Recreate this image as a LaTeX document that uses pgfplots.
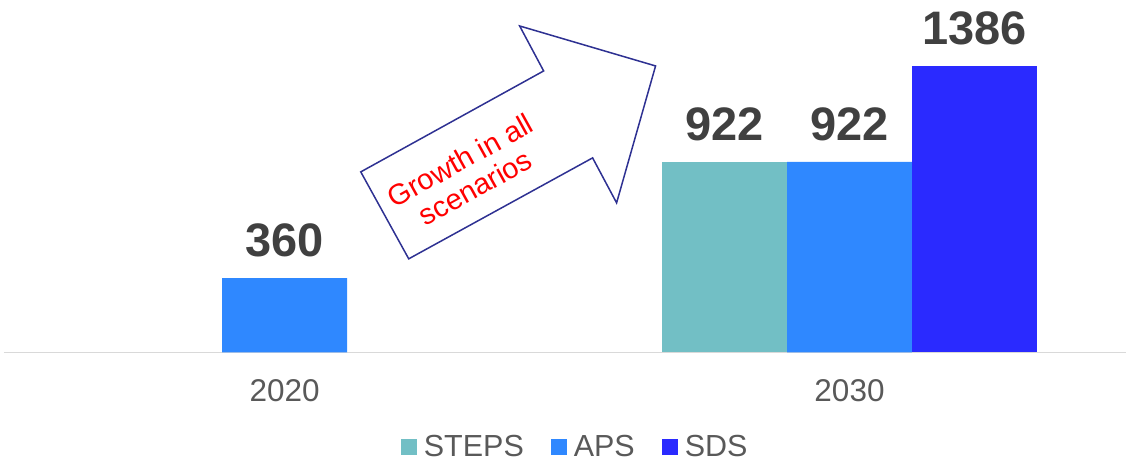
\documentclass[border=0pt]{standalone}
\usepackage{fontspec}
\setmainfont{Liberation Sans}
\usepackage{pgfplots}
\pgfplotsset{compat=1.18}
\definecolor{steps}{HTML}{72BFC5}
\definecolor{aps}{HTML}{2F88FF}
\definecolor{sds}{HTML}{2A2AFF}
\definecolor{lbl}{HTML}{404040}
\definecolor{tck}{HTML}{595959}
\definecolor{navy}{HTML}{2E3192}
\begin{document}
\begin{tikzpicture}[x=1pt,y=1pt]
\begin{axis}[
  at={(4pt,115.3pt)}, anchor=south west,
  scale only axis, width=1123pt, height=352.7pt,
  xmin=-0.497, xmax=1.49, ymin=0, ymax=1705,
  ybar=0pt, bar width=125pt,
  axis y line=none,
  axis x line*=bottom,
  x axis line style={draw=black!15, line width=1.5pt},
  xtick={0,1}, xticklabels={2020,2030},
  major tick length=0pt,
  xticklabel style={anchor=north, inner sep=0pt, yshift=-27pt, font=\fontsize{31.5}{31.5}\selectfont, text=tck},
  /pgf/number format/assume math mode=true,
  /pgf/number format/1000 sep={},
  nodes near coords,
  every node near coord/.append style={anchor=south, inner sep=0pt, yshift=21pt, font=\fontsize{47}{47}\selectfont\bfseries, text=lbl},
  legend columns=3,
  legend style={draw=none, fill=none, at={(0.5085,-0.2674)}, anchor=center,
    font=\fontsize{30.5}{30.5}\selectfont, text=tck,
    /tikz/every odd column/.append style={column sep=6pt},
    /tikz/every even column/.append style={column sep=26pt},
    nodes={inner sep=1pt}},
  legend image code/.code={\fill[#1] (0pt,-8pt) rectangle (16pt,8pt);},
]
\addplot[fill=steps, draw=none] coordinates {(1,922)};
\addplot[fill=aps, draw=none] coordinates {(0,360) (1,922)};
\addplot[fill=sds, draw=none] coordinates {(1,1386)};
\legend{STEPS,APS,SDS}
\end{axis}
\draw[navy, line width=1.5pt, line join=miter]
  (361,468-172) -- (544,468-71) -- (520,468-26) -- (656,468-66) -- (617,468-203) -- (593,468-158) -- (409,468-259) -- cycle;
\node[rotate=29, text=red, align=center, font=\fontsize{29}{31}\selectfont] at (468,468-174) {Growth in all\\scenarios};
\path[use as bounding box] (0,0) rectangle (1127,468);
\end{tikzpicture}
\end{document}
